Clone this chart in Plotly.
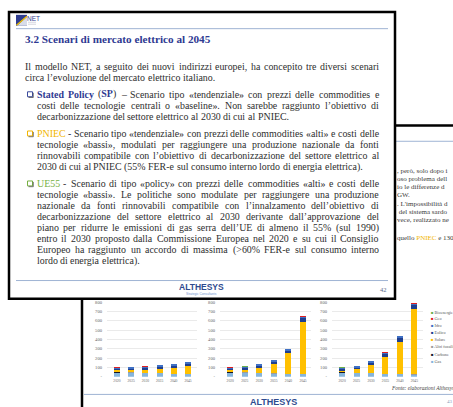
import plotly.graph_objects as go

# ---------------- data ----------------
YEARS = ["2020", "2025", "2030", "2035", "2040", "2045"]
SERIES = ["Gas", "Carbone", "Altri fossili", "Solare", "Eolico", "Idro", "Geo", "Bioenergie"]
COLORS = ["#86b5dc", "#15172b", "#9c9c9c", "#ffc000", "#1f3f8f", "#3f70c4", "#e02020", "#6ab04c"]

SP_VALUES = {
    "Gas": [40, 40, 38, 35, 30, 27],
    "Carbone": [7, 3, 0, 0, 0, 0],
    "Altri fossili": [3, 3, 3, 2, 2, 2],
    "Solare": [20, 25, 35, 50, 65, 86],
    "Eolico": [11, 13, 16, 18, 20, 22],
    "Idro": [17, 17, 17, 17, 17, 17],
    "Geo": [1, 1, 1, 1, 1, 1],
    "Bioenergie": [4, 4, 4, 4, 4, 4],
}
PNIEC_VALUES = {
    "Gas": [40, 40, 38, 32, 28, 24],
    "Carbone": [7, 3, 0, 0, 0, 0],
    "Altri fossili": [3, 3, 3, 2, 2, 2],
    "Solare": [20, 30, 55, 100, 220, 565],
    "Eolico": [11, 14, 20, 25, 30, 38],
    "Idro": [17, 17, 17, 17, 17, 17],
    "Geo": [1, 1, 1, 1, 1, 1],
    "Bioenergie": [4, 4, 4, 4, 4, 4],
}
UE55_VALUES = {
    "Gas": [38, 38, 35, 30, 27, 22],
    "Carbone": [7, 2, 0, 0, 0, 0],
    "Altri fossili": [3, 3, 3, 2, 2, 2],
    "Solare": [18, 35, 90, 180, 345, 700],
    "Eolico": [11, 15, 20, 30, 42, 45],
    "Idro": [17, 17, 17, 17, 17, 17],
    "Geo": [1, 1, 1, 1, 1, 1],
    "Bioenergie": [4, 4, 4, 4, 4, 4],
}
Y_TICKS = [0, 100, 200, 300, 400, 500, 600, 700, 800]
Y_TICKTEXT = ["-", "100", "200", "300", "400", "500", "600", "700", "800"]
LEGEND_ORDER = ["Bioenergie", "Geo", "Idro", "Eolico", "Solare", "Altri fossili", "Carbone", "Gas"]

TITLE = "3.2 Scenari di mercato elettrico al 2045"
INTRO_LINES = [
    "Il modello NET, a seguito dei nuovi indirizzi europei, ha concepito tre diversi scenari",
    "circa l’evoluzione del mercato elettrico italiano.",
]
SP_LINES = [
    "{Stated} {Policy} ({SP}) – Scenario tipo «tendenziale» con prezzi delle commodities e",
    "costi delle tecnologie centrali o «baseline». Non sarebbe raggiunto l’obiettivo di",
    "decarbonizzazione del settore elettrico al 2030 di cui al PNIEC.",
]
PNIEC_LINES = [
    "[PNIEC] - Scenario tipo «tendenziale» con prezzi delle commodities «alti» e costi delle",
    "tecnologie «bassi», modulati per raggiungere una produzione nazionale da fonti",
    "rinnovabili compatibile con l’obiettivo di decarbonizzazione del settore elettrico al",
    "2030 di cui al PNIEC (55% FER-e sul consumo interno lordo di energia elettrica).",
]
UE55_LINES = [
    "[UE55] - Scenario di tipo «policy» con prezzi delle commodities «alti» e costi delle",
    "tecnologie «bassi». Le politiche sono modulate per raggiungere una produzione",
    "nazionale da fonti rinnovabili compatibile con l’innalzamento dell’obiettivo di",
    "decarbonizzazione del settore elettrico al 2030 derivante dall’approvazione del",
    "piano per ridurre le emissioni di gas serra dell’UE di almeno il 55% (sul 1990)",
    "entro il 2030 proposto dalla Commissione Europea nel 2020 e su cui il Consiglio",
    "Europeo ha raggiunto un accordo di massima (>60% FER-e sul consumo interno",
    "lordo di energia elettrica).",
]
BACK_LINES = [
    ", però, solo dopo i",
    "oso problema dell",
    "io le differenze d",
    "GW.",
    ". L'impossibilità d",
    " del sistema sardo",
    "vece, realizzato ne",
    "quello <span style='color:#f2b600'>PNIEC</span> e 130",
]

# ---------------- helpers ----------------
W_PX, H_PX = 453, 407


def fx(px):
    return px / W_PX


def fy(py):
    return 1 - py / H_PX


REG = {' ': 250, '!': 333, '%': 833, '(': 333, ')': 333, ',': 250, '-': 333, '.': 250, '/': 278,
       ':': 278, ';': 278, '>': 564, '<': 564, '’': 333, "'": 180, '«': 500, '»': 500, '–': 500,
       'A': 722, 'B': 667, 'C': 667, 'D': 722, 'E': 611, 'F': 556, 'G': 722, 'H': 722, 'I': 333,
       'J': 389, 'K': 722, 'L': 611, 'M': 889, 'N': 722, 'O': 722, 'P': 556, 'Q': 722, 'R': 667,
       'S': 556, 'T': 611, 'U': 722, 'V': 722, 'W': 944, 'X': 722, 'Y': 722, 'Z': 611,
       'a': 444, 'b': 500, 'c': 444, 'd': 500, 'e': 444, 'f': 333, 'g': 500, 'h': 500, 'i': 278,
       'j': 278, 'k': 500, 'l': 278, 'm': 778, 'n': 500, 'o': 500, 'p': 500, 'q': 500, 'r': 333,
       's': 389, 't': 278, 'u': 500, 'v': 500, 'w': 722, 'x': 500, 'y': 500, 'z': 444,
       'à': 444, 'è': 444, 'é': 444, 'ì': 278, 'ò': 500, 'ù': 500}
BOLD = {'S': 556, 't': 333, 'a': 500, 'e': 444, 'd': 556, 'P': 611, 'o': 500, 'l': 278,
        'i': 278, 'c': 444, 'y': 500, ' ': 250}
TEXT_C = "#2e2e2e"
BLUE_C = "#2f3a92"
FONT = "Liberation Serif"


def parse_word(word, accent):
    """return (html, width_units)"""
    html, units, mode = "", 0, None
    for ch in word:
        if ch == "{":
            mode = "b"; html += f"<b><span style='color:{BLUE_C}'>"; continue
        if ch == "}":
            mode = None; html += "</span></b>"; continue
        if ch == "[":
            mode = "c"; html += f"<span style='color:{accent}'>"; continue
        if ch == "]":
            mode = None; html += "</span>"; continue
        if mode == "b":
            units += BOLD.get(ch, REG.get(ch, 500) * 1.05)
        else:
            units += REG.get(ch, 500)
        html += ch
    return html, units


def natural_width(line):
    words = line.split(" ")
    return sum(parse_word(w, "#000")[1] for w in words) + 250 * (len(words) - 1)


annotations = []
shapes = []

LINE_H = 11.2
PARAS = [
    (INTRO_LINES, 25.0, 379.0, 65.5, None),
    (SP_LINES, 36.5, 379.0, 93.3, "#3b4a9c"),
    (PNIEC_LINES, 36.5, 379.0, 133.0, "#f2b600"),
    (UE55_LINES, 36.5, 379.0, 183.6, "#76b041"),
]
ratios = []
for lines, xl, xr, _, _ in PARAS:
    for ln in lines[:-1]:
        ratios.append((xr - xl) / natural_width(ln) * 1000)
FS = min(10.0, min(ratios) * 0.995)

for lines, xl, xr, y0, accent in PARAS:
    for i, ln in enumerate(lines):
        y = y0 + i * LINE_H
        words = ln.split(" ")
        parsed = [parse_word(w, accent or TEXT_C) for w in words]
        widths = [u * FS / 1000 for _, u in parsed]
        if i < len(lines) - 1 and len(words) > 1:
            gap = ((xr - xl) - sum(widths)) / (len(words) - 1)
        else:
            gap = 250 * FS / 1000
        x = xl
        for (html, _), wd in zip(parsed, widths):
            annotations.append(dict(x=fx(x), y=fy(y), xref="paper", yref="paper", text=html,
                                    showarrow=False, xanchor="left", yanchor="middle",
                                    borderpad=0, borderwidth=0,
                                    font=dict(family=FONT, size=FS, color=TEXT_C)))
            x += wd + gap
    if accent:
        by = y0
        shapes.append(dict(type="rect", xref="paper", yref="paper", x0=fx(27.5), x1=fx(32.5),
                           y0=fy(by + 2.6), y1=fy(by - 2.4), line=dict(color=accent, width=1),
                           fillcolor="white", layer="above"))
        shapes.append(dict(type="path", xref="paper", yref="paper",
                           path=f"M {fx(28.5)} {fy(by + 3.4)} L {fx(33.3)} {fy(by + 3.4)} L {fx(33.3)} {fy(by - 1.4)}",
                           line=dict(color="#555555", width=0.8), layer="above"))

# title
annotations.append(dict(x=fx(25), y=fy(37), xref="paper", yref="paper", text=f"<b>{TITLE}</b>",
                        showarrow=False, xanchor="left", yanchor="middle", borderpad=0, borderwidth=0,
                        font=dict(family=FONT, size=11.2, color=BLUE_C)))

# ---------------- slide frames ----------------
# back slide
shapes.append(dict(type="rect", xref="paper", yref="paper", x0=fx(82), x1=fx(470), y0=fy(125), y1=fy(430),
                   line=dict(color="black", width=2.5), fillcolor="white", layer="below"))
shapes.append(dict(type="line", xref="paper", yref="paper", x0=fx(395), x1=fx(453), y0=fy(141), y1=fy(141),
                   line=dict(color="#9fb4d4", width=1), layer="below"))
shapes.append(dict(type="line", xref="paper", yref="paper", x0=fx(84), x1=fx(453), y0=fy(397.3), y1=fy(397.3),
                   line=dict(color="#9fb4d4", width=1), layer="below"))
# front slide
shapes.append(dict(type="rect", xref="paper", yref="paper", x0=fx(9), x1=fx(395), y0=fy(10), y1=fy(300.5),
                   line=dict(color="black", width=2.5), fillcolor="white", layer="below"))
shapes.append(dict(type="line", xref="paper", yref="paper", x0=fx(16), x1=fx(388), y0=fy(27), y1=fy(27),
                   line=dict(color="#9fb4d4", width=1), layer="below"))
shapes.append(dict(type="line", xref="paper", yref="paper", x0=fx(16), x1=fx(388), y0=fy(282), y1=fy(282),
                   line=dict(color="#9fb4d4", width=1), layer="below"))
# NET logo
shapes.append(dict(type="rect", xref="paper", yref="paper", x0=fx(16), x1=fx(27), y0=fy(24), y1=fy(13),
                   line=dict(width=0), fillcolor="#2f3d8f", layer="below"))
shapes.append(dict(type="path", xref="paper", yref="paper",
                   path=f"M {fx(17)} {fy(24)} L {fx(27)} {fy(15)} L {fx(27)} {fy(24)} Z",
                   line=dict(width=0), fillcolor="#d8dce8", layer="below"))
shapes.append(dict(type="line", xref="paper", yref="paper", x0=fx(16.5), x1=fx(27), y0=fy(23.5), y1=fy(14.5),
                   line=dict(color="#f2c200", width=1.3), layer="below"))
annotations.append(dict(x=fx(27), y=fy(16.5), xref="paper", yref="paper", text="NET", showarrow=False,
                        xanchor="left", yanchor="middle", borderpad=0, borderwidth=0,
                        font=dict(family="Liberation Sans", size=6.5, color="#2f3d8f")))
for yy in (20.5, 22.5):
    shapes.append(dict(type="line", xref="paper", yref="paper", x0=fx(28), x1=fx(36), y0=fy(yy), y1=fy(yy),
                       line=dict(color="#b8b8c8", width=0.6), layer="below"))

# front footer
annotations.append(dict(x=fx(201), y=fy(289), xref="paper", yref="paper", text="<b>ALTHESYS</b>",
                        showarrow=False, xanchor="center", yanchor="middle", borderpad=0, borderwidth=0,
                        font=dict(family="Liberation Sans", size=8.5, color="#2e4b8f")))
annotations.append(dict(x=fx(201), y=fy(295.5), xref="paper", yref="paper", text="Strategic Consultants",
                        showarrow=False, xanchor="center", yanchor="middle", borderpad=0, borderwidth=0,
                        font=dict(family="Liberation Sans", size=3.2, color="#6f92cc")))
annotations.append(dict(x=fx(383), y=fy(291.5), xref="paper", yref="paper", text="42",
                        showarrow=False, xanchor="center", yanchor="middle", borderpad=0, borderwidth=0,
                        font=dict(family=FONT, size=6.5, color="#5a6a8a")))

# back slide visible text
BACK_Y = [171, 179, 187, 195, 205, 213, 221, 238.5]
for t, yy in zip(BACK_LINES, BACK_Y):
    annotations.append(dict(x=fx(396.5), y=fy(yy), xref="paper", yref="paper", text=t,
                            showarrow=False, xanchor="left", yanchor="middle", borderpad=0, borderwidth=0,
                            font=dict(family=FONT, size=7.0, color="#3a3a3a")))

annotations.append(dict(x=fx(390.5), y=fy(391), xref="paper", yref="paper",
                        text="<i>Fonte: elaborazioni Althesys</i>", showarrow=False, xanchor="left",
                        yanchor="middle", borderpad=0, borderwidth=0,
                        font=dict(family=FONT, size=5.4, color="#444444")))
annotations.append(dict(x=fx(273), y=fy(405), xref="paper", yref="paper", text="<b>ALTHESYS</b>",
                        showarrow=False, xanchor="center", yanchor="middle", borderpad=0, borderwidth=0,
                        font=dict(family="Liberation Sans", size=9, color="#2e4b8f")))
annotations.append(dict(x=fx(447), y=fy(404.5), xref="paper", yref="paper", text="43",
                        showarrow=False, xanchor="left", yanchor="middle", borderpad=0, borderwidth=0,
                        font=dict(family=FONT, size=5, color="#8a9aba")))

# legend (manual, Excel-like)
LEG_Y = [314, 320.5, 327.5, 334.5, 342, 349, 356.5, 364]
cmap = dict(zip(SERIES, COLORS))
for name, yy in zip(LEGEND_ORDER, LEG_Y):
    annotations.append(dict(x=fx(430.5), y=fy(yy), xref="paper", yref="paper",
                            text=f"<span style='color:{cmap[name]}'>■</span> {name}", showarrow=False,
                            xanchor="left", yanchor="middle", borderpad=0, borderwidth=0,
                            font=dict(family=FONT, size=4.2, color="#555555")))

# ---------------- charts ----------------
fig = go.Figure()
PANELS = [
    (SP_VALUES, "x", "y", (107, 197), [-0.7, 5.63]),
    (PNIEC_VALUES, "x2", "y2", (220, 311), [-0.7, 5.55]),
    (UE55_VALUES, "x3", "y3", (332, 423), [-0.7, 5.6]),
]
layout_axes = {}
for idx, (vals, xa, ya, (x0, x1), xr) in enumerate(PANELS):
    for s, c in zip(SERIES, COLORS):
        fig.add_trace(go.Bar(x=YEARS, y=vals[s], name=s, marker=dict(color=c, line=dict(width=0)),
                             width=0.42, xaxis=xa, yaxis=ya, showlegend=False))
    xk = "xaxis" if idx == 0 else f"xaxis{idx + 1}"
    yk = "yaxis" if idx == 0 else f"yaxis{idx + 1}"
    layout_axes[xk] = dict(domain=[fx(x0), fx(x1)], anchor=ya, type="category", range=xr,
                           showgrid=False, showline=False, zeroline=False, ticks="",
                           tickfont=dict(family=FONT, size=3.6, color="#666666"), ticklabelstandoff=1)
    layout_axes[yk] = dict(domain=[fy(379.3), fy(304)], anchor=xa, range=[0, 800],
                           tickvals=Y_TICKS, ticktext=Y_TICKTEXT, showgrid=True, gridcolor="#dcdcdc",
                           gridwidth=0.6, zeroline=False, showline=False, ticks="",
                           tickfont=dict(family=FONT, size=4.6, color="#666666"), ticklabelstandoff=4)

fig.update_layout(
    width=W_PX, height=H_PX, margin=dict(l=0, r=0, t=0, b=0),
    paper_bgcolor="white", plot_bgcolor="rgba(0,0,0,0)",
    barmode="stack", showlegend=False, hovermode=False,
    shapes=shapes, annotations=annotations,
    **layout_axes,
)
fig.write_html("out.html", config={"displayModeBar": False, "staticPlot": True},
               post_script="document.body.style.margin='0';document.body.style.overflow='hidden';")
